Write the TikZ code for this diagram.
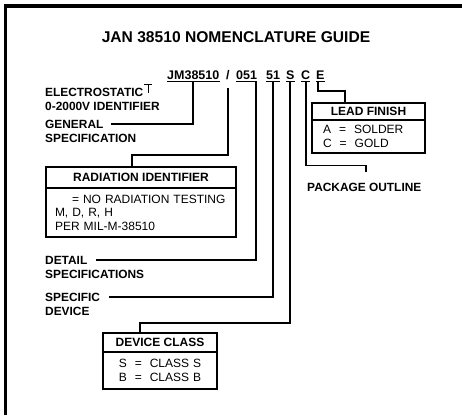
\documentclass[tikz,border=0pt]{standalone}
\usepackage{fontspec}
\setmainfont{Liberation Sans}
\usetikzlibrary{positioning}

\begin{document}
\begin{tikzpicture}[x=1pt, y=-1pt,
    title/.style={font=\bfseries\fontsize{15.6}{18}\selectfont, inner sep=0pt, anchor=base},
    code/.style={font=\bfseries\fontsize{12.5}{14}\selectfont, inner sep=0pt, anchor=base west},
    lbl/.style={font=\bfseries\fontsize{11.9}{14}\selectfont, inner sep=0pt, anchor=base west},
    hdr/.style={rectangle, draw, line width=1.5pt, outer sep=0pt, inner sep=0pt, font=\bfseries\fontsize{12}{14}\selectfont},
    body/.style={rectangle, draw, line width=1.5pt, outer sep=0pt, inner ysep=0pt, font=\fontsize{12}{13.5}\selectfont},
    wire/.style={line width=1.9pt},
    uline/.style={line width=1.3pt}
]
\useasboundingbox (0,0) rectangle (462,415);
% Frame
\draw[line width=3.5pt] (5.5,415) -- (5.5,6) -- (462,6);

\node[title] (ttl) at (236,42) {JAN 38510 NOMENCLATURE GUIDE};

% Part number
\node[code] (jm) at (167,79) {JM38510};
\node[code] (slash) at (226,79) {/};
\node[code] (c051) at (236,79) {051};
\node[code] (c51) at (266,79) {51};
\node[code] (cS) at (286,79) {S};
\node[code] (cC) at (301,79) {C};
\node[code] (cE) at (316,79) {E};
\foreach \n in {jm,c051,c51,cS,cC,cE}
    \draw[uline] ([yshift=-2pt]\n.south west) -- ([yshift=-2pt]\n.south east);

% Labels on the left
\node[lbl] (elec1) at (45,96) {ELECTROSTATIC};
\node[lbl] (elec2) at ([yshift=-14pt]elec1.base west) {0-2000V IDENTIFIER};
\draw[line width=0.8pt] ([xshift=1pt,yshift=3pt]elec1.north east) -- ++(8,0);
\draw[line width=0.8pt] ([xshift=5pt,yshift=3pt]elec1.north east) -- ++(0,9);
\node[lbl] (gen1) at (45,128) {GENERAL};
\node[lbl] (gen2) at ([yshift=-14pt]gen1.base west) {SPECIFICATION};
\node[lbl] (det1) at (45,264) {DETAIL};
\node[lbl] (det2) at ([yshift=-14pt]det1.base west) {SPECIFICATIONS};
\node[lbl] (spc1) at (45,301) {SPECIFIC};
\node[lbl] (spc2) at ([yshift=-14pt]spc1.base west) {DEVICE};
\node[lbl] (pkg) at (307,191) {PACKAGE OUTLINE};

% Boxes
\node[hdr, minimum width=190pt, minimum height=21pt] (radHdr) at (141,177.5) {RADIATION IDENTIFIER};
\node[body, inner xsep=9pt, text width=172pt, align=left, minimum height=49pt, below=0pt of radHdr] (radBody)
    {\hspace*{17pt}= NO RADIATION TESTING\\M, D, R, H\\PER MIL-M-38510};

\node[hdr, minimum width=113pt, minimum height=17pt] (leadHdr) at (368.5,111.5) {LEAD FINISH};
\node[body, inner xsep=11pt, text width=91pt, align=left, minimum height=33pt, below=0pt of leadHdr] (leadBody)
    {A~~=~~SOLDER\\C~~=~~GOLD};

\node[hdr, minimum width=114pt, minimum height=19pt] (devHdr) at (160,342.5) {DEVICE CLASS};
\node[body, inner xsep=7pt, text width=100pt, align=center, minimum height=37pt, below=0pt of devHdr] (devBody)
    {S~~=~~CLASS S\\B~~=~~CLASS B};

% Connectors
\draw[wire] ([yshift=-3pt]jm.south) |- ([xshift=7pt]gen1.east);
\draw[wire] ([yshift=-9pt]slash.south) |- ([xshift=-9pt,yshift=12pt]radHdr.north) -- ([xshift=-9pt]radHdr.north);
\draw[wire] ([xshift=-1pt,yshift=-3pt]c051.south east) |- ([xshift=9pt]det1.east);
\draw[wire] ([yshift=-3pt]c51.south) |- ([xshift=9pt]spc1.east);
\draw[wire] ([yshift=-3pt]cS.south) |- ([xshift=-20pt,yshift=10pt]devHdr.north) -- ([xshift=-20pt]devHdr.north);
\draw[wire] ([yshift=-3pt]cC.south) |- ([xshift=2pt,yshift=17pt]pkg.north) -- ([xshift=2pt,yshift=10pt]pkg.north);
\draw[wire] ([xshift=2pt,yshift=-3pt]cE.south west) |- ([xshift=-23.5pt,yshift=12pt]leadHdr.north) -- ([xshift=-23.5pt]leadHdr.north);
\end{tikzpicture}
\end{document}
